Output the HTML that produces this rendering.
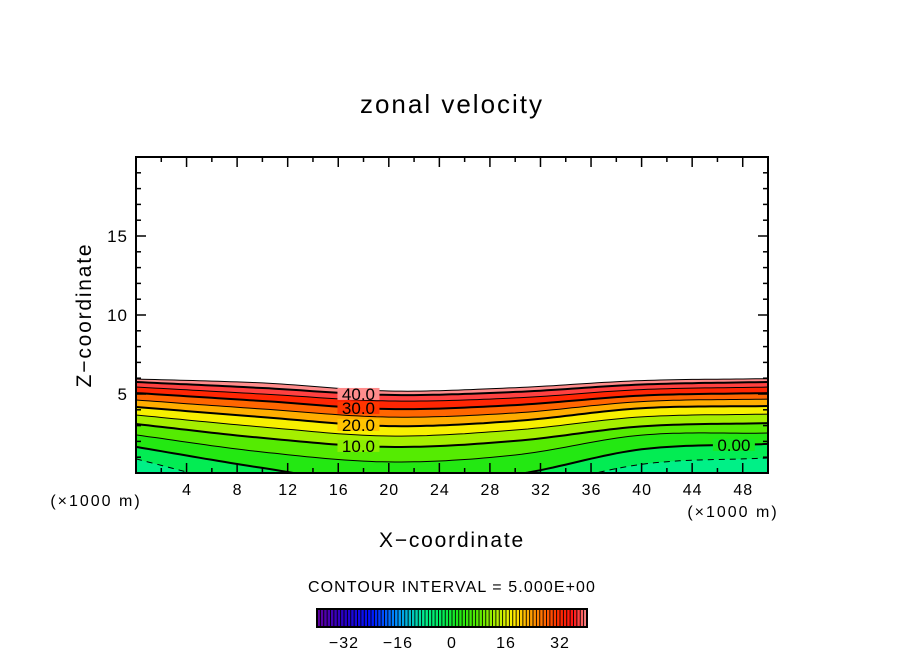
<!DOCTYPE html>
<html><head><meta charset="utf-8"><style>
html,body{margin:0;padding:0;background:#fff;}
svg{display:block;font-family:"Liberation Sans",sans-serif;}
</style></head><body>
<svg id="chart" width="904" height="654" viewBox="0 0 904 654" xmlns="http://www.w3.org/2000/svg">
<defs><clipPath id="plotclip"><rect x="136" y="157" width="632" height="316"/></clipPath></defs>
<g id="fields" clip-path="url(#plotclip)"></g>
<g id="lines" clip-path="url(#plotclip)"></g>
<g id="axes"></g>
<text x="452" y="113" font-size="26" text-anchor="middle" letter-spacing="2">zonal velocity</text>
<text x="452" y="547" font-size="21" text-anchor="middle" letter-spacing="1.8">X−coordinate</text>
<text transform="translate(91,315) rotate(-90)" font-size="21" text-anchor="middle" letter-spacing="1.8">Z−coordinate</text>
<text x="96" y="506" font-size="16" text-anchor="middle" letter-spacing="2">(×1000 m)</text>
<text x="733" y="517" font-size="16" text-anchor="middle" letter-spacing="2">(×1000 m)</text>
<text x="452" y="592" font-size="16" text-anchor="middle" letter-spacing="1.1">CONTOUR INTERVAL = 5.000E+00</text>
<g id="cbar"></g>
</svg>
<script>
const xSamples = [0, 10, 20, 30, 40, 50];
const levels = [-5, 0, 5, 10, 15, 20, 25, 30, 35, 40, 45];
const zAt0  = [0.89, 1.65, 2.41, 3.10, 3.67, 4.18, 4.62, 5.06, 5.44, 5.76, 5.95];
const zAt10 = [-1.1, 0.32, 1.33, 2.22, 2.91, 3.54, 4.05, 4.56, 5.00, 5.38, 5.70];
const zAt20 = [-2.5, -0.76, 0.70, 1.65, 2.34, 2.97, 3.54, 4.05, 4.56, 4.94, 5.19];
const zAt30 = [-1.2, -0.1, 1.14, 2.03, 2.72, 3.29, 3.80, 4.30, 4.75, 5.13, 5.40];
const zAt40 = [0.55, 1.50, 2.40, 2.95, 3.55, 4.10, 4.52, 4.90, 5.28, 5.60, 5.85];
const zAt50 = [0.95, 1.84, 2.53, 3.16, 3.73, 4.24, 4.68, 5.06, 5.44, 5.76, 5.97];
const xTicks = [4, 8, 12, 16, 20, 24, 28, 32, 36, 40, 44, 48];
const yTicks = [5, 10, 15];
const cbarTicks = [-32, -16, 0, 16, 32];
const contourLabels = [{t:"40.0",lvl:40,x:17.6},{t:"30.0",lvl:30,x:17.6},{t:"20.0",lvl:20,x:17.6},{t:"10.0",lvl:10,x:17.6},{t:"0.00",lvl:0,x:47.3}];

const NS="http://www.w3.org/2000/svg";
const X0=136,X1=768,Y0=473,Y1=157;
const sx=v=>X0+(v-0)/50*(X1-X0);
const sy=v=>Y0-(v-0)/20*(Y0-Y1);
const profiles=[zAt0,zAt10,zAt20,zAt30,zAt40,zAt50];
function zOf(li,x){
  const n=xSamples.length;
  let i=0;
  while(i<n-2 && x>xSamples[i+1]) i++;
  const t=(x-xSamples[i])/(xSamples[i+1]-xSamples[i]);
  const p1=profiles[i][li], p2=profiles[i+1][li];
  const p0=i>0?profiles[i-1][li]:2*p1-p2;
  const p3=i+2<n?profiles[i+2][li]:2*p2-p1;
  const t2=t*t,t3=t2*t;
  return 0.5*((2*p1)+(-p0+p2)*t+(2*p0-5*p1+4*p2-p3)*t2+(-p0+3*p1-3*p2+p3)*t3);
}
const cstops=[[-40,[96,0,160]],[-32,[40,0,200]],[-24,[0,20,255]],[-16,[0,150,255]],[-8,[0,240,140]],[-3,[0,236,90]],[2,[30,232,20]],[8,[90,235,0]],[14,[190,240,0]],[18,[255,240,0]],[24,[255,150,0]],[32,[255,40,0]],[36,[255,20,20]],[40,[255,140,140]]];
function cmap(v){
  for(let i=0;i<cstops.length-1;i++){
    const a=cstops[i],b=cstops[i+1];
    if(v<=b[0]||i===cstops.length-2){
      let t=(v-a[0])/(b[0]-a[0]);t=Math.max(0,Math.min(1,t));
      const c=a[1].map((q,k)=>Math.round(q+(b[1][k]-q)*t));
      return `rgb(${c[0]},${c[1]},${c[2]})`;
    }
  }
}
function curvePts(li){
  const p=[];
  for(let x=0;x<=50.001;x+=0.5)p.push([sx(x),sy(zOf(li,x))]);
  return p;
}
const fields=document.getElementById('fields');
const lines=document.getElementById('lines');
for(let li=levels.length-1;li>=0;li--){
  const pts=curvePts(li);
  const d='M'+pts.map(p=>p[0].toFixed(1)+','+p[1].toFixed(1)).join('L')+`L${X1},${Y0+60}L${X0},${Y0+60}Z`;
  const path=document.createElementNS(NS,'path');
  path.setAttribute('d',d);
  path.setAttribute('fill',cmap(levels[li]-2.5));
  
  
  fields.appendChild(path);
}
for(let li=0;li<levels.length;li++){
  const pts=curvePts(li);
  const path=document.createElementNS(NS,'path');
  path.setAttribute('d','M'+pts.map(p=>p[0].toFixed(1)+','+p[1].toFixed(1)).join('L'));
  path.setAttribute('fill','none');
  path.setAttribute('stroke','#000');
  const lv=levels[li];
  path.setAttribute('stroke-width',(lv%10===0)?2:1);
  if(lv<0)path.setAttribute('stroke-dasharray','6,5');
  
  
  lines.appendChild(path);
}
contourLabels.forEach(l=>{
  const li=levels.indexOf(l.lvl);
  const px=sx(l.x),py=sy(zOf(li,l.x));
  const r=document.createElementNS(NS,'rect');
  r.setAttribute('x',px-21);r.setAttribute('y',py-6);r.setAttribute('width',42);r.setAttribute('height',12);
  r.setAttribute('fill',cmap(l.lvl+1));
  
  
  lines.appendChild(r);
  const t=document.createElementNS(NS,'text');
  t.setAttribute('x',px);t.setAttribute('y',py+6);t.setAttribute('text-anchor','middle');t.setAttribute('font-size','17');
  t.textContent=l.t;
  
  
  lines.appendChild(t);
});
const axes=document.getElementById('axes');
function line(x1,y1,x2,y2,w,name){
  const l=document.createElementNS(NS,'line');
  l.setAttribute('x1',x1);l.setAttribute('y1',y1);l.setAttribute('x2',x2);l.setAttribute('y2',y2);
  l.setAttribute('stroke','#000');l.setAttribute('stroke-width',w);
  
  
  axes.appendChild(l);
}
function text(x,y,s,size,anchor,name){
  const t=document.createElementNS(NS,'text');
  t.setAttribute('x',x);t.setAttribute('y',y);t.setAttribute('font-size',size);t.setAttribute('text-anchor',anchor);
  t.setAttribute('letter-spacing','1');
  t.textContent=s;
  
  
  axes.appendChild(t);
}
const box=document.createElementNS(NS,'rect');
box.setAttribute('x',X0);box.setAttribute('y',Y1);box.setAttribute('width',X1-X0);box.setAttribute('height',Y0-Y1);
box.setAttribute('fill','none');box.setAttribute('stroke','#000');box.setAttribute('stroke-width','2');


axes.appendChild(box);
for(let v=2;v<50;v+=2){
  const maj=v%4===0, L=maj?10:5;
  line(sx(v),Y0,sx(v),Y0-L,1.5,'x-tick');
  line(sx(v),Y1,sx(v),Y1+L,1.5,'x-tick-top');
}
xTicks.forEach(v=>text(sx(v)+0.5,495,String(v),16,'middle','x-tick-label'));
for(let v=1;v<20;v++){
  const maj=v%5===0, L=maj?10:5;
  line(X0,sy(v),X0+L,sy(v),1.5,'y-tick');
  line(X1,sy(v),X1-L,sy(v),1.5,'y-tick-right');
}
yTicks.forEach(v=>text(128,sy(v)+6,String(v),17,'end','y-tick-label'));
// colorbar
const cb=document.getElementById('cbar');
const cx=v=>452+v*(54/16);
for(let v=-40;v<40;v++){
  const r=document.createElementNS(NS,'rect');
  r.setAttribute('x',cx(v));r.setAttribute('y',609);r.setAttribute('width',54/16+0.3);r.setAttribute('height',18);
  r.setAttribute('fill',cmap(v+0.5));
  
  
  cb.appendChild(r);
  const l=document.createElementNS(NS,'line');
  l.setAttribute('x1',cx(v));l.setAttribute('x2',cx(v));l.setAttribute('y1',609);l.setAttribute('y2',627);
  l.setAttribute('stroke','#000');l.setAttribute('stroke-width','0.9');
  
  
  cb.appendChild(l);
}
const cf=document.createElementNS(NS,'rect');
cf.setAttribute('x',cx(-40));cf.setAttribute('y',609);cf.setAttribute('width',cx(40)-cx(-40));cf.setAttribute('height',18);
cf.setAttribute('fill','none');cf.setAttribute('stroke','#000');cf.setAttribute('stroke-width','2');


cb.appendChild(cf);
cbarTicks.forEach(v=>{
  const t=document.createElementNS(NS,'text');
  t.setAttribute('x',cx(v));t.setAttribute('y',648);t.setAttribute('font-size','16');t.setAttribute('text-anchor','middle');
  t.setAttribute('letter-spacing','1');
  t.textContent=(v<0?'−':'')+Math.abs(v);
  
  
  cb.appendChild(t);
});
</script>
</body></html>
